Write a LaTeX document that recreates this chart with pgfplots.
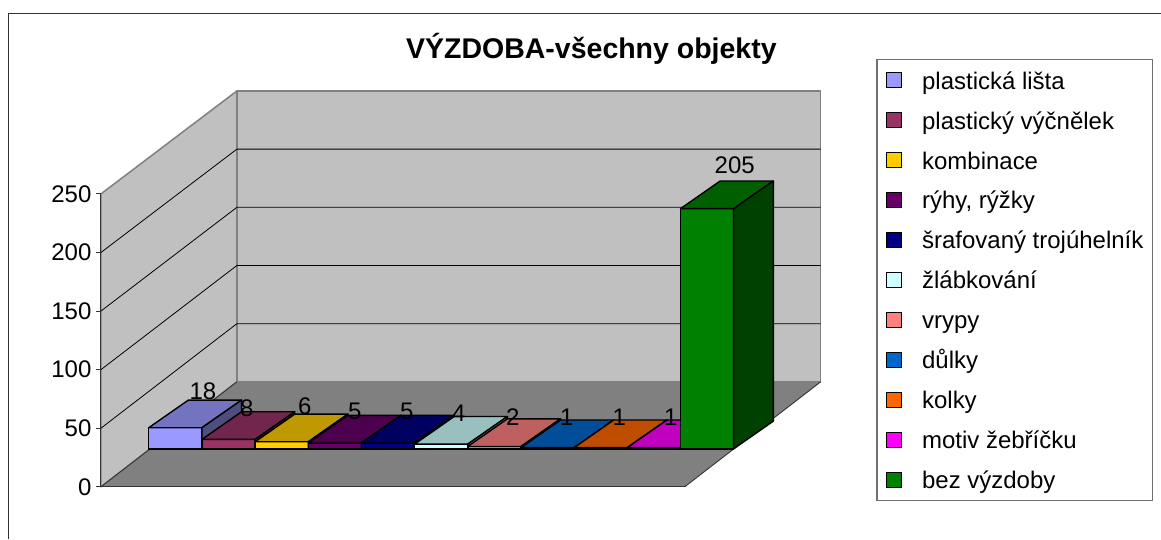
\documentclass[border=0pt]{standalone}
\usepackage{pgfplots}
\pgfplotsset{compat=1.18}
\usepackage{fontspec}
\setmainfont{Liberation Sans}
\definecolor{f1}{HTML}{9999FF}\definecolor{t1}{HTML}{7373BF}\definecolor{s1}{HTML}{4D4D80}
\definecolor{f2}{HTML}{993366}\definecolor{t2}{HTML}{73264D}\definecolor{s2}{HTML}{4D1A33}
\definecolor{f3}{HTML}{FFCC00}\definecolor{t3}{HTML}{BF9900}\definecolor{s3}{HTML}{806600}
\definecolor{f4}{HTML}{660066}\definecolor{t4}{HTML}{4D004D}\definecolor{s4}{HTML}{330033}
\definecolor{f5}{HTML}{000080}\definecolor{t5}{HTML}{000060}\definecolor{s5}{HTML}{000040}
\definecolor{f6}{HTML}{CCFFFF}\definecolor{t6}{HTML}{99BFBF}\definecolor{s6}{HTML}{668080}
\definecolor{f7}{HTML}{FF8080}\definecolor{t7}{HTML}{BF6060}\definecolor{s7}{HTML}{804040}
\definecolor{f8}{HTML}{0066CC}\definecolor{t8}{HTML}{004D99}\definecolor{s8}{HTML}{003366}
\definecolor{f9}{HTML}{FF6600}\definecolor{t9}{HTML}{BF4D00}\definecolor{s9}{HTML}{803300}
\definecolor{f10}{HTML}{FF00FF}\definecolor{t10}{HTML}{BF00BF}\definecolor{s10}{HTML}{800080}
\definecolor{f11}{HTML}{008000}\definecolor{t11}{HTML}{006000}\definecolor{s11}{HTML}{004000}
\definecolor{wall}{HTML}{C0C0C0}
\definecolor{edge}{HTML}{808080}
\definecolor{dark}{HTML}{333333}
\newcommand{\fs}{\fontsize{24}{28}\selectfont}
% #1 category position, #2 value
\newcommand{\barthreed}[2]{%
  \pgfmathsetmacro\xl{#1-0.5}\pgfmathsetmacro\xr{#1+0.5}%
  \pgfmathsetmacro\xlb{#1-0.5+0.745}\pgfmathsetmacro\xrb{#1+0.5+0.745}%
  \pgfmathsetmacro\yb{#2+23.6}%
  \edef\temp{%
    \noexpand\addplot[forget plot,ybar,bar width=53.2pt,bar shift=0pt,xshift=47.8pt,yshift=38pt,
      fill=f#1,draw=black,line width=1.4pt] coordinates {(#1,#2)};
    \noexpand\addplot[forget plot,xshift=47.8pt,yshift=38pt,fill=t#1,draw=black,line width=1.4pt,line join=round]
      coordinates {(\xl,#2)(\xr,#2)(\xrb,\yb)(\xlb,\yb)} --cycle;
    \noexpand\addplot[forget plot,xshift=47.8pt,yshift=38pt,fill=s#1,draw=black,line width=1.4pt,line join=round]
      coordinates {(\xr,0)(\xrb,23.6)(\xrb,\yb)(\xr,#2)} --cycle;
  }\temp
}
\begin{document}
\begin{tikzpicture}[x=1pt,y=-1pt]
% page and frame (reference pixel coordinates)
\path[fill=white] (0,0) rectangle (1161,539);
\draw[line width=1pt,draw=dark] (8.3,539) -- (8.3,13.3) -- (1161,13.3);
% walls and floor
\fill[wall,draw=edge,line width=1.5pt,line join=round] (101,194) -- (237,91) -- (237,382) -- (101,487) -- cycle;
\fill[wall,draw=edge,line width=1.5pt,line join=round] (237,91) -- (821,91) -- (821,382) -- (237,382) -- cycle;
\foreach \a/\b in {428.4/323.8,369.8/265.6,311.2/207.4,252.6/149.2}{
  \draw[black,line width=0.8pt] (101,\a) -- (237,\b) -- (821,\b);
}
\fill[edge] (101,487) -- (237,382) -- (821,382) -- (685,487) -- cycle;
\draw[dark,line width=0.9pt] (101,487) -- (237,382);
\draw[dark,line width=0.9pt] (685,487) -- (821,382);
\begin{axis}[
  at={(101pt,-487pt)},anchor=south west,
  scale only axis,width=585.2pt,height=293pt,
  xmin=0.5,xmax=11.5,ymin=0,ymax=250,
  clip=false,
  axis y line=left,axis x line=bottom,
  axis line style={-,draw=dark,line width=1pt},
  xtick=\empty,
  ytick={0,50,100,150,200,250},
  tick style={draw=dark,line width=1pt},
  major tick length=5pt,
  tick align=outside,
  y tick label style={font=\fs,/pgf/number format/assume math mode=true,xshift=-1pt},
  title={\textbf{VÝZDOBA-všechny objekty}},
  title style={at={(0.8385,1.476)},anchor=center,font=\fontsize{28.5}{32}\selectfont},
  legend image code/.code={\draw[#1,draw=black,line width=1.2pt] (0pt,-7.5pt) rectangle (15pt,7.5pt);},
  legend style={
    at={(1.3255,1.4608)},anchor=north west,
    draw=dark!70,line width=1.2pt,fill=white,
    font=\fs,
    inner xsep=9pt,inner ysep=10.5pt,
    row sep=20pt,
    /tikz/column 1/.style={column sep=20pt},
    cells={anchor=west},
    nodes={text height=19pt,text depth=1pt,inner sep=0pt},
  },
  legend cell align=left,
]
\addlegendimage{fill=f1}\addlegendentry{plastická lišta}
\addlegendimage{fill=f2}\addlegendentry{plastický výčnělek}
\addlegendimage{fill=f3}\addlegendentry{kombinace}
\addlegendimage{fill=f4}\addlegendentry{rýhy, rýžky}
\addlegendimage{fill=f5}\addlegendentry{šrafovaný trojúhelník}
\addlegendimage{fill=f6}\addlegendentry{žlábkování}
\addlegendimage{fill=f7}\addlegendentry{vrypy}
\addlegendimage{fill=f8}\addlegendentry{důlky}
\addlegendimage{fill=f9}\addlegendentry{kolky}
\addlegendimage{fill=f10}\addlegendentry{motiv žebříčku}
\addlegendimage{fill=f11}\addlegendentry{bez výzdoby}
\barthreed{1}{18}
\barthreed{2}{8}
\barthreed{3}{6}
\barthreed{4}{5}
\barthreed{5}{5}
\barthreed{6}{4}
\barthreed{7}{2}
\barthreed{8}{1}
\barthreed{9}{1}
\barthreed{10}{1}
\barthreed{11}{205}
\end{axis}
% data labels
\foreach \px/\py/\t in {203/391/18,247/408/8,305/406/6,355/412/5,407/412/5,459/413/4,513/417/2,567/417/1,619.5/417/1,671/417/1,735/165/205}{
  \node[font=\fs,inner sep=0pt] at (\px,\py) {\t};
}
\end{tikzpicture}
\end{document}
